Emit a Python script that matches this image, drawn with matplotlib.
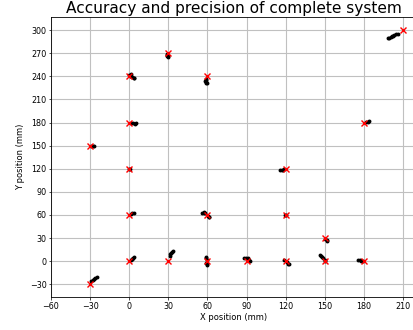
from matplotlib import pyplot as plt
import numpy as np

# reference (target) positions in mm
target_x = [-30, 0, 30, 60, 90, 120, 150, 180, 150, 0, 60, 120, 0, 120, -30, 0, 180, 0, 60, 30, 210]
target_y = [-30, 0, 0, 0, 0, 0, 0, 0, 30, 60, 60, 60, 120, 120, 150, 180, 180, 240, 240, 270, 300]

meas_x = [-29, -28, -27, -26, -25,
          1, 2, 3, 3.5, 2.5,
          31, 31.5, 32, 33, 33.5,
          59, 59, 59.5, 59, 59.5, 60,
          88, 89.5, 91, 92, 92.5,
          119, 121, 122, 122.5,
          146, 147, 148, 149, 150, 150.5,
          175.5, 177, 178, 179,
          150.5, 151.5, 152,
          1.5, 2.5, 3.5,
          56, 57, 58, 57.5, 61, 61.5, 60.5,
          119.5, 120.5,
          -0.5, 0.3,
          116, 117, 118, 119,
          -29, -28, -27,
          1.5, 3, 4.5, 5,
          181.5, 183, 184,
          -0.5, 0.5, 1.5, 2.5, 3.5, 4, 1,
          59, 59, 58.5, 59, 59.5, 59,
          29, 29, 29.5, 29, 29.5,
          198.5, 199.5, 200.5, 201.5, 202.5, 203.5, 204.5, 206]
meas_y = [-26, -24.5, -23, -22, -21,
          1, 2.5, 4, 5, 3.5,
          7, 9, 10.5, 12, 13,
          6, 4, 2, -2, -4, -5,
          4, 4.5, 4, 2, 0.5,
          2, -1, -3, -4,
          8, 7, 5.5, 4, 2, 0.5,
          1.5, 1, 0.5, 0.5,
          29, 27.5, 26.5,
          61, 62, 63,
          63, 64, 63, 62.5, 58, 57, 59,
          60, 59.5,
          120, 119.5,
          118.5, 119, 119, 119.5,
          150, 149.5, 149.5,
          179.5, 179, 178.5, 179,
          180.5, 181, 181.5,
          242, 241, 240, 239, 238, 237.5, 243,
          237, 235, 234, 233, 232, 231.5,
          269, 268, 267, 266, 265,
          289.5, 290.5, 291, 292, 293, 293.5, 294.5, 295.5]

fig = plt.figure(figsize=(4.14, 3.30), dpi=100)
ax = fig.add_axes([51 / 414, 0.1, 365 / 414, 0.847])

ax.plot(meas_x, meas_y, 'o', color='black', markersize=2.8, markeredgewidth=0)
ax.plot(target_x, target_y, 'x', color='red', markersize=4, markeredgewidth=1.0)

ax.set_xlim(-60, 220)
ax.set_ylim(-46.5, 316.5)
ax.set_xticks(np.arange(-60, 211, 30))
ax.set_yticks(np.arange(-30, 301, 30))
ax.grid(True, color='#c0c0c0', linewidth=0.8)
ax.set_axisbelow(True)
ax.tick_params(labelsize=5.8, length=1.8, width=0.5, pad=1.5)
for s in ax.spines.values():
    s.set_linewidth(0.6)

ax.set_title("Accuracy and precision of complete system", fontsize=11.1, pad=3)
ax.set_xlabel("X position (mm)", fontsize=6, labelpad=2)
ax.set_ylabel("Y position (mm)", fontsize=6, labelpad=3)

plt.savefig("out.png", dpi=100)
